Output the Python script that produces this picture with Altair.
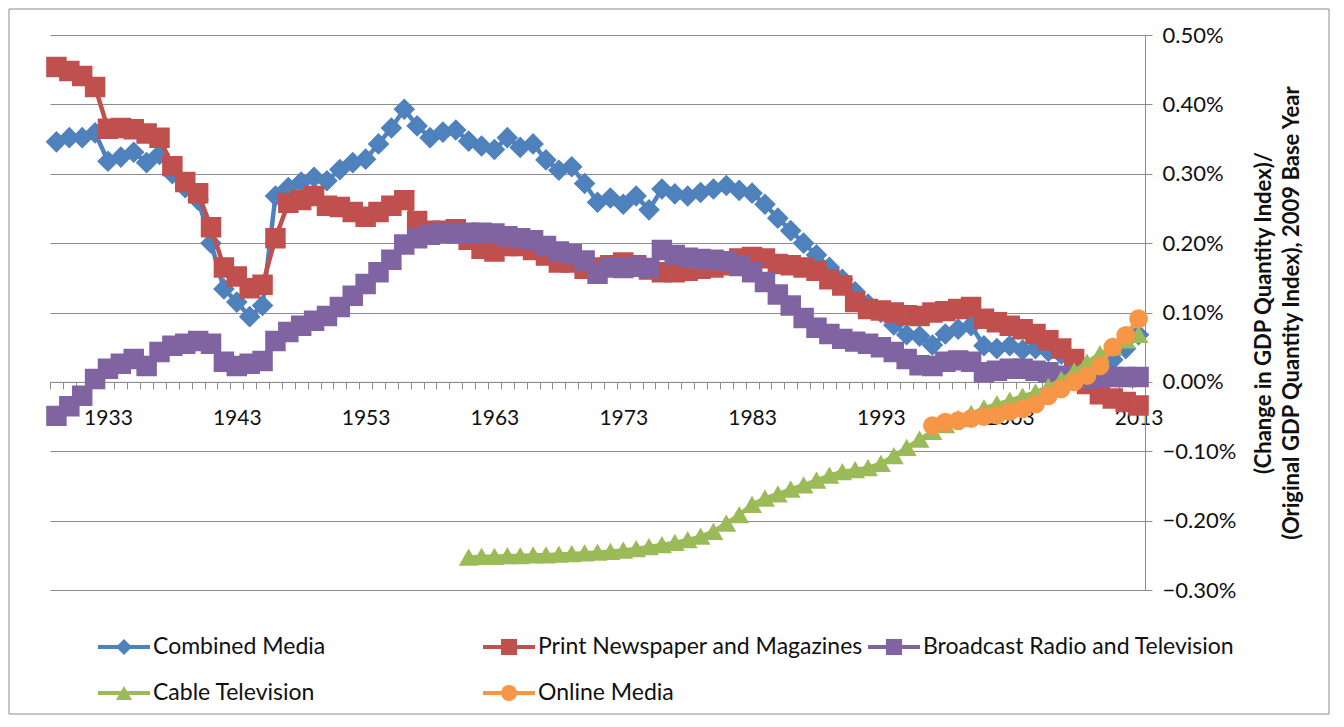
import altair as alt
import pandas as pd

# ---------------- data (percent units) ----------------
years = list(range(1929, 2014))

combined = [
    0.346, 0.352, 0.352, 0.359, 0.318, 0.324, 0.331, 0.316, 0.328, 0.300,
    0.280, 0.262, 0.200, 0.134, 0.115, 0.094, 0.110, 0.268, 0.280, 0.288,
    0.295, 0.290, 0.306, 0.316, 0.321, 0.343, 0.366, 0.393, 0.369, 0.352,
    0.360, 0.363, 0.347, 0.340, 0.335, 0.352, 0.338, 0.343, 0.320, 0.305,
    0.310, 0.286, 0.259, 0.265, 0.256, 0.268, 0.248, 0.278, 0.271, 0.268,
    0.273, 0.278, 0.283, 0.276, 0.272, 0.256, 0.236, 0.218, 0.200, 0.183,
    0.165, 0.148, 0.130, 0.112, 0.100, 0.082, 0.068, 0.066, 0.053, 0.069,
    0.076, 0.081, 0.052, 0.048, 0.052, 0.046, 0.048, 0.044, 0.040, 0.030,
    0.018, 0.020, 0.032, 0.048, 0.068,
]

print_media = [
    0.454, 0.448, 0.441, 0.425, 0.365, 0.366, 0.364, 0.358, 0.352, 0.311,
    0.288, 0.272, 0.223, 0.165, 0.152, 0.135, 0.140, 0.207, 0.258, 0.262,
    0.268, 0.254, 0.252, 0.245, 0.238, 0.245, 0.254, 0.262, 0.232, 0.218,
    0.218, 0.220, 0.205, 0.192, 0.188, 0.196, 0.196, 0.190, 0.182, 0.172,
    0.172, 0.163, 0.165, 0.168, 0.172, 0.168, 0.162, 0.158, 0.158, 0.160,
    0.163, 0.165, 0.168, 0.178, 0.180, 0.178, 0.170, 0.168, 0.165, 0.160,
    0.148, 0.139, 0.115, 0.105, 0.103, 0.100, 0.096, 0.095, 0.100, 0.102,
    0.105, 0.108, 0.091, 0.086, 0.081, 0.076, 0.069, 0.060, 0.048, 0.033,
    -0.003, -0.018, -0.024, -0.029, -0.034,
]

broadcast = [
    -0.049, -0.035, -0.020, 0.004, 0.019, 0.026, 0.033, 0.023, 0.043, 0.052,
    0.055, 0.059, 0.055, 0.029, 0.023, 0.026, 0.030, 0.059, 0.072, 0.081,
    0.088, 0.095, 0.108, 0.124, 0.141, 0.158, 0.176, 0.198, 0.207, 0.212,
    0.215, 0.214, 0.215, 0.215, 0.214, 0.210, 0.207, 0.204, 0.196, 0.188,
    0.184, 0.175, 0.156, 0.165, 0.164, 0.166, 0.164, 0.190, 0.183, 0.179,
    0.177, 0.176, 0.174, 0.167, 0.158, 0.144, 0.126, 0.110, 0.092, 0.078,
    0.069, 0.062, 0.058, 0.055, 0.050, 0.043, 0.033, 0.024, 0.023, 0.029,
    0.031, 0.029, 0.014, 0.016, 0.019, 0.019, 0.016, 0.014, 0.009, 0.008,
    0.005, 0.006, 0.007, 0.007, 0.007,
]

cable_years = list(range(1961, 2014))
cable = [
    -0.253, -0.252, -0.252, -0.251, -0.251, -0.250, -0.250, -0.249, -0.248, -0.247,
    -0.246, -0.245, -0.243, -0.241, -0.238, -0.235, -0.232, -0.228, -0.223, -0.216,
    -0.204, -0.192, -0.177, -0.168, -0.162, -0.155, -0.149, -0.142, -0.135, -0.130,
    -0.127, -0.124, -0.118, -0.107, -0.095, -0.083, -0.072, -0.062, -0.053, -0.046,
    -0.038, -0.032, -0.027, -0.021, -0.015, -0.007, 0.003, 0.015, 0.028, 0.040,
    0.050, 0.060, 0.068,
]

online_years = list(range(1997, 2014))
online = [
    -0.063, -0.058, -0.056, -0.053, -0.050, -0.048, -0.043, -0.039, -0.032, -0.020,
    -0.010, 0.000, 0.009, 0.023, 0.050, 0.067, 0.091,
]

series_names = [
    "Combined Media",
    "Print Newspaper and Magazines",
    "Broadcast Radio and Television",
    "Cable Television",
    "Online Media",
]
series_colors = ["#4F81BD", "#C0504D", "#8064A2", "#9BBB59", "#F79646"]
series_shapes = ["diamond", "square", "square", "triangle-up", "circle"]
series_sizes = [380, 360, 360, 300, 300]
legend_col = [0, 1, 2, 0, 1]
legend_row = [0, 0, 0, 1, 1]

y_ticks = [-0.3, -0.2, -0.1, 0.0, 0.1, 0.2, 0.3, 0.4, 0.5]
x_label_years = list(range(1933, 2014, 10))

# ---------------- build tables ----------------
series_x = [years, years, years, cable_years, online_years]
series_y = [combined, print_media, broadcast, cable, online]
tables = [
    pd.DataFrame({"year": xs, "value": ys, "series": name})
    for xs, ys, name in zip(series_x, series_y, series_names)
]

# year boundaries for the minor ticks of the category axis
boundaries = [y - 0.5 for y in years] + [years[-1] + 0.5]

W, H = 1095, 555
FONT = "Lato"
GRID = "#8c8c8c"
ymin, ymax = y_ticks[0], y_ticks[-1]
zero_offset = -H * (0 - ymin) / (ymax - ymin)
half_band = W / len(years) / 2

x_axis = alt.Axis(
    values=boundaries,
    labelExpr="indexof([%s], datum.value + 0.5) >= 0 ? format(datum.value + 0.5, 'd') : ''"
    % ",".join(str(v) for v in x_label_years),
    labelOffset=half_band,
    offset=zero_offset,
    grid=False,
    title=None,
    tickSize=7,
    tickColor=GRID,
    domainColor=GRID,
    labelFont=FONT,
    labelFontSize=21,
    labelColor="#111111",
    labelPadding=19,
    labelOverlap=False,
    labelBound=False,
    labelFlush=False,
)

y_axis = alt.Axis(
    orient="right",
    values=y_ticks,
    labelExpr="format(datum.value, '.2f') + '%'",
    grid=True,
    gridColor=GRID,
    gridWidth=1,
    domainColor=GRID,
    tickColor=GRID,
    tickSize=7,
    labelPadding=10,
    labelFont=FONT,
    labelFontSize=22,
    labelColor="#111111",
    title=["(Change in GDP Quantity Index)/", "(Original GDP Quantity Index), 2009 Base Year"],
    titleFont=FONT,
    titleFontSize=22,
    titleFontWeight="bold",
    titleColor="#111111",
    titleAngle=270,
    titlePadding=12,
    titleLineHeight=28,
)

x_enc = alt.X(
    "year:Q",
    scale=alt.Scale(domain=[boundaries[0], boundaries[-1]], nice=False, zero=False),
    axis=x_axis,
)
y_enc = alt.Y(
    "value:Q",
    scale=alt.Scale(domain=[ymin, ymax], nice=False, zero=False),
    axis=y_axis,
)

layers = []
for tbl, color, shape, size in zip(tables, series_colors, series_shapes, series_sizes):
    base = alt.Chart(tbl)
    layers.append(base.mark_line(color=color, strokeWidth=4.5).encode(x=x_enc, y=y_enc))
    layers.append(
        base.mark_point(
            filled=True, shape=shape, size=size, color=color, stroke=color,
            strokeWidth=1.5, opacity=1,
        ).encode(x=x_enc, y=y_enc)
    )
data_group = alt.layer(*layers)

# ---------------- legend (drawn from the series lists) ----------------
leg_df = pd.DataFrame({"series": series_names, "col": legend_col, "row": legend_row})
lx = alt.X("col:Q", scale=alt.Scale(domain=[0, 3], range=[0, 1155]), axis=None)
ly = alt.Y("row:Q", scale=alt.Scale(domain=[0, 1], range=[612, 658]), axis=None)
lcolor = alt.Color(
    "series:N", scale=alt.Scale(domain=series_names, range=series_colors), legend=None
)
lshape = alt.Shape(
    "series:N", scale=alt.Scale(domain=series_names, range=series_shapes), legend=None
)

leg_line = alt.Chart(leg_df).mark_rule(strokeWidth=4, xOffset=48, x2Offset=100).encode(
    x=lx, x2="col:Q", y=ly, color=lcolor
)
leg_pt = alt.Chart(leg_df).mark_point(filled=True, size=260, xOffset=74, opacity=1).encode(
    x=lx, y=ly, color=lcolor, shape=lshape
)
leg_txt = alt.Chart(leg_df).mark_text(
    align="left", baseline="middle", xOffset=103, font=FONT, fontSize=23, color="#111111"
).encode(x=lx, y=ly, text="series:N")

border = alt.Chart(alt.Data(values=[{}])).mark_rect(
    fill="transparent", stroke=GRID, strokeWidth=1
).encode(x=alt.value(-41), x2=alt.value(1279), y=alt.value(-26), y2=alt.value(679))

legend_group = alt.layer(border, leg_line, leg_pt, leg_txt)

chart = (
    alt.layer(data_group, legend_group)
    .resolve_scale(x="independent", y="independent", color="independent", shape="independent")
    .properties(
        width=W,
        height=H,
        autosize=alt.AutoSizeParams(type="none"),
        padding={"left": 42, "top": 27, "right": 185, "bottom": 125},
        background="white",
    )
    .configure_view(stroke=None)
)

chart.save("out.html", embed_options={"renderer": "svg", "actions": False})
